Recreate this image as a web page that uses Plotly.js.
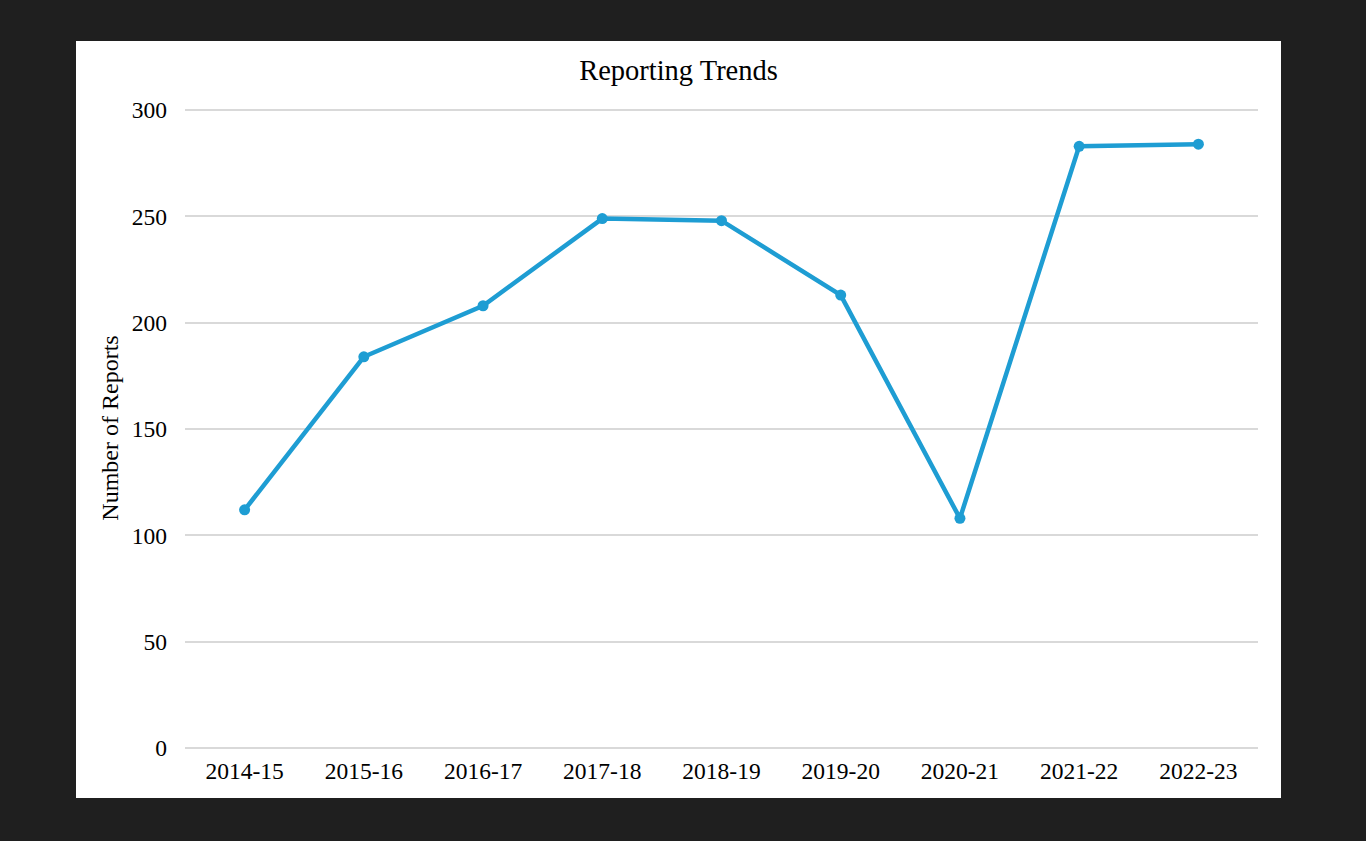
<!DOCTYPE html>
<html>
<head>
<meta charset="utf-8">
<script src="https://cdn.plot.ly/plotly-3.0.1.min.js"></script>
<style>
  html, body { margin: 0; padding: 0; background: #1f1f1f; width: 1366px; height: 841px; overflow: hidden; }
  #panel { position: absolute; left: 76px; top: 41px; width: 1205px; height: 757px; background: #ffffff; }
  #chart { width: 1205px; height: 757px; }
</style>
</head>
<body>
<div id="panel"><div id="chart"></div></div>
<script>
const years = ["2014-15", "2015-16", "2016-17", "2017-18", "2018-19", "2019-20", "2020-21", "2021-22", "2022-23"];
const reports = [112, 184, 208, 249, 248, 213, 108, 283, 284];
const yTicks = [0, 50, 100, 150, 200, 250, 300];

const font = "Liberation Serif, Times New Roman, serif";

Plotly.newPlot("chart", [{
  x: years,
  y: reports,
  type: "scatter",
  mode: "lines+markers",
  line: { color: "#1e9dd3", width: 4.5 },
  marker: { color: "#1e9dd3", size: 11 },
  hoverinfo: "x+y"
}], {
  width: 1205,
  height: 757,
  margin: { l: 109, r: 23, t: 67, b: 50 },
  paper_bgcolor: "#ffffff",
  plot_bgcolor: "#ffffff",
  showlegend: false,
  font: { family: font, color: "#000000", size: 23 },
  title: {
    text: "Reporting Trends",
    font: { family: font, size: 28.5, color: "#000000" },
    x: 0.5, xanchor: "center",
    y: 1 - 29 / 757, yanchor: "middle"
  },
  xaxis: {
    type: "category",
    range: [-0.5, 8.5],
    showgrid: false,
    showline: false,
    zeroline: false,
    ticks: "",
    ticklabelstandoff: 6,
    tickfont: { family: font, size: 23.5, color: "#000000" },
    fixedrange: true
  },
  yaxis: {
    range: [0, 301],
    tickvals: yTicks,
    ticktext: yTicks.map(String),
    showgrid: true,
    gridcolor: "#d9d9d9",
    gridwidth: 1.5,
    zeroline: true,
    zerolinecolor: "#d9d9d9",
    zerolinewidth: 1.5,
    showline: false,
    ticks: "",
    ticklabelstandoff: 17,
    tickfont: { family: font, size: 23.5, color: "#000000" },
    title: { text: "Number of Reports", font: { family: font, size: 24, color: "#000000" }, standoff: 6 },
    fixedrange: true
  }
}, { displayModeBar: false });
</script>
</body>
</html>
